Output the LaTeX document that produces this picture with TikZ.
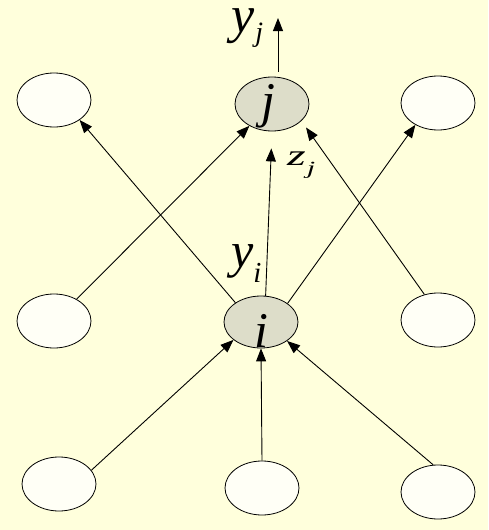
\documentclass[tikz,border=0pt]{standalone}
\usepackage{fontspec}
\setmainfont{Liberation Serif}
\usetikzlibrary{arrows.meta,calc,shapes.geometric}
\definecolor{bgyel}{HTML}{FFFFDC}
\definecolor{nodegray}{HTML}{DDDDC9}
\definecolor{nodewhite}{HTML}{FFFFF6}
\begin{document}
\begin{tikzpicture}[x=1pt,y=-1pt,
  unit/.style={draw=black, line width=0.8pt, ellipse, minimum width=74pt, minimum height=54pt, inner sep=0pt, fill=nodewhite},
  hidden/.style={unit, fill=nodegray},
  conn/.style={draw=black, line width=0.9pt, -{Triangle[length=13pt,width=10pt]}},
  bigtxt/.style={inner sep=0pt, font=\fontsize{50}{50}\selectfont\itshape}
]
\useasboundingbox[fill=bgyel] (0,0) rectangle (488,530);
% nodes
\node[unit] (tl) at (54,100) {};
\node[hidden] (j) at (272,104) {};
\node[unit] (tr) at (438,103) {};
\node[unit] (ml) at (54,321) {};
\node[hidden, minimum height=52pt] (i) at (261,322) {};
\node[unit] (mr) at (438,320) {};
\node[unit] (bl) at (59,484) {};
\node[unit] (bc) at (262,488) {};
\node[unit] (br) at (438,492) {};
% letters in the nodes
\node[bigtxt, anchor=base] (jl) at (268,117) {j};
\node[bigtxt, anchor=base] (il) at (261,347) {i};
% connectors
\coordinate (jout) at (278,18);
\draw[conn] (bl.23) -- (i.213);
\draw[conn] (bc.north) -- (i.south);
\draw[conn] (br.100) -- (i.324);
\draw[conn] (i.143) -- (tl.322);
\draw[conn] (ml.44) -- (j.224);
\draw[conn, shorten >=8pt] (mr.118) -- (j.330);
\draw[conn] (i.35) -- (tr.224);
\draw[conn, shorten >=17pt] (i.80) -- (j.south);
\draw[conn] ($(jout |- j.north)+(0,-5)$) -- (jout);
% labels
\node[bigtxt, anchor=base west, font=\fontsize{52}{52}\selectfont\itshape] (lyj) at (231,32) {y\raisebox{-9pt}{\fontsize{28}{28}\selectfont\kern1pt j}};
\node[bigtxt, anchor=base west] (lyi) at (231,267) {y\raisebox{-15pt}{\fontsize{29}{29}\selectfont i}};
\node[bigtxt, anchor=base west, font=\fontsize{48}{48}\selectfont\itshape] (lzj) at (287,165) {\scalebox{1}[0.62]{z\raisebox{-16pt}{\fontsize{30}{30}\selectfont\kern1pt j}}};
\end{tikzpicture}
\end{document}
